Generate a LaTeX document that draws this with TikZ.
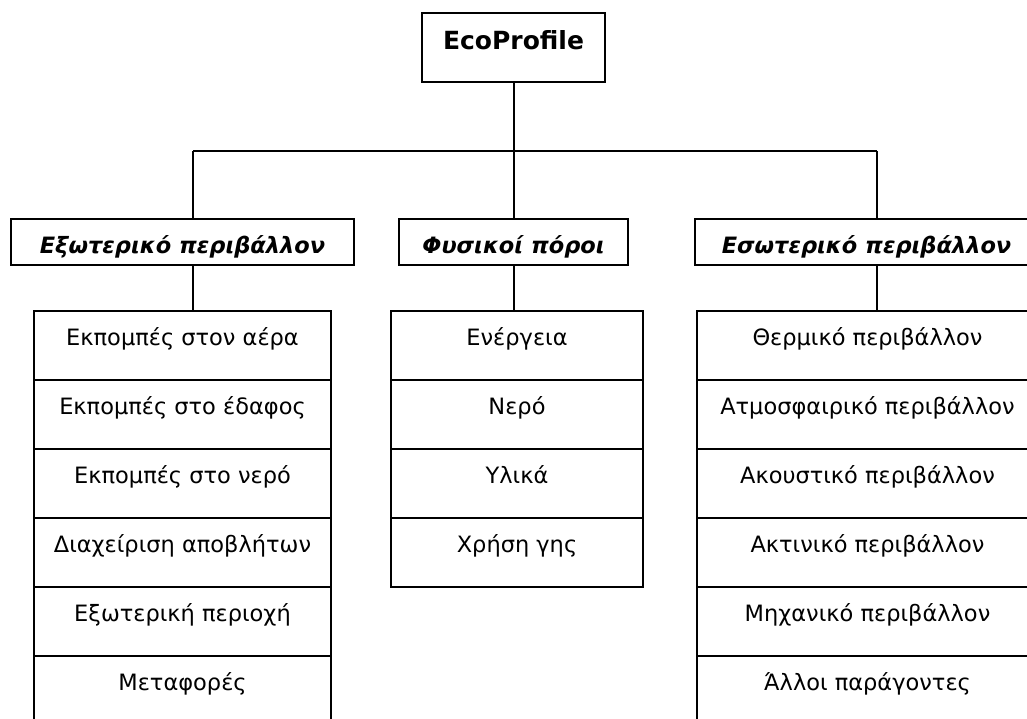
\documentclass[tikz,border=0pt]{standalone}
\usepackage{fontspec}
\setmainfont{DejaVu Sans}
\usetikzlibrary{positioning}

\begin{document}
\begin{tikzpicture}[
  x=1pt, y=-1pt,
  node distance=0pt,
  box/.style={draw, line width=2pt, inner sep=0pt, outer sep=0pt, anchor=north west},
  rootbox/.style={box, minimum width=183pt, text height=36pt, text depth=33pt,
    font=\fontsize{25}{30}\selectfont\bfseries},
  groupbox/.style={box, text height=34pt, text depth=12pt,
    font=\fontsize{22.5}{27}\selectfont\bfseries\itshape},
  itembox/.style={box, text height=34pt, text depth=35pt,
    font=\fontsize{22.5}{27}\selectfont},
  extitem/.style={itembox, minimum width=297pt},
  resitem/.style={itembox, minimum width=252pt},
  intitem/.style={itembox, minimum width=341pt},
  link/.style={line width=2pt},
]

% Frame (the picture is cut at the right and bottom)
\useasboundingbox (0,0) rectangle (1027,718);
\clip (0,0) rectangle (1027,718);

% Root
\node[rootbox] (eco) at (422,13) {EcoProfile};

% Groups
\node[groupbox, minimum width=343pt] (ext) at (11,219) {Εξωτερικό περιβάλλον};
\node[groupbox, minimum width=229pt] (res) at (399,219) {Φυσικοί πόροι};
\node[groupbox, minimum width=343pt] (int) at (695,219) {Εσωτερικό περιβάλλον};

% Items: external environment
\node[extitem] (e1) at (34,311) {Εκπομπές στον αέρα};
\node[extitem, below=of e1] (e2) {Εκπομπές στο έδαφος};
\node[extitem, below=of e2] (e3) {Εκπομπές στο νερό};
\node[extitem, below=of e3] (e4) {Διαχείριση αποβλήτων};
\node[extitem, below=of e4] (e5) {Εξωτερική περιοχή};
\node[extitem, below=of e5] (e6) {Μεταφορές};

% Items: natural resources
\node[resitem] (r1) at (391,311) {Ενέργεια};
\node[resitem, below=of r1] (r2) {Νερό};
\node[resitem, below=of r2] (r3) {Υλικά};
\node[resitem, below=of r3] (r4) {Χρήση γης};

% Items: internal environment
\node[intitem] (i1) at (697,311) {Θερμικό περιβάλλον};
\node[intitem, below=of i1] (i2) {Ατμοσφαιρικό περιβάλλον};
\node[intitem, below=of i2] (i3) {Ακουστικό περιβάλλον};
\node[intitem, below=of i3] (i4) {Ακτινικό περιβάλλον};
\node[intitem, below=of i4] (i5) {Μηχανικό περιβάλλον};
\node[intitem, below=of i5] (i6) {Άλλοι παράγοντες};

% Connectors
\coordinate (busL) at (193,151);
\coordinate (busR) at (877,151);
\draw[link] (eco.south) -- (res.north);
\draw[link] (busL) -- (busR);
\draw[link] (busL) -- (busL |- ext.north);
\draw[link] (busR) -- (busR |- int.north);
\draw[link] (busL |- ext.south) -- (busL |- e1.north);
\draw[link] (res.south) -- (res.south |- r1.north);
\draw[link] (busR |- int.south) -- (busR |- i1.north);

\end{tikzpicture}
\end{document}
